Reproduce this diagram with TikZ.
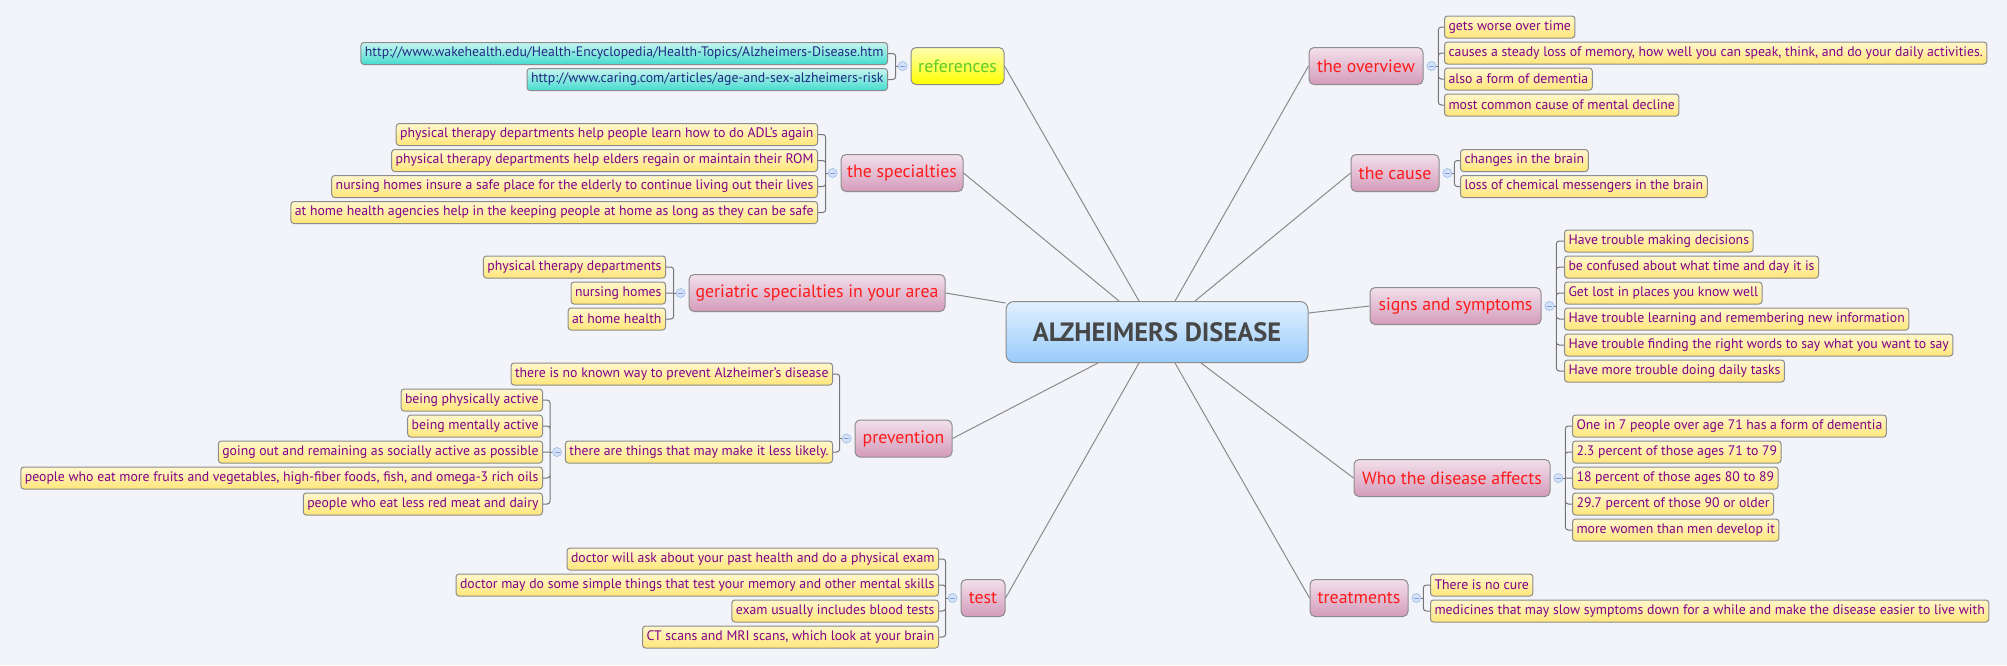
\documentclass[tikz,border=0pt]{standalone}
\usepackage{fontspec}
\setmainfont{PT Sans}
\usetikzlibrary{positioning}
\definecolor{canvas}{HTML}{F2F4F9}
\definecolor{rim}{HTML}{8C8C8C}
\definecolor{spokegray}{HTML}{8A8A8A}
\definecolor{hubtop}{HTML}{E2F1FF}
\definecolor{hubbot}{HTML}{98CBFA}
\definecolor{hubtext}{HTML}{474747}
\definecolor{topictop}{HTML}{F2E0EA}
\definecolor{topicbot}{HTML}{D49BBB}
\definecolor{topictext}{HTML}{FF1A1A}
\definecolor{leaftop}{HTML}{FFF7CC}
\definecolor{leafbot}{HTML}{FFE67A}
\definecolor{leaftext}{HTML}{82008A}
\definecolor{urltop}{HTML}{C8F5F0}
\definecolor{urlbot}{HTML}{45DBCF}
\definecolor{urltext}{HTML}{1F2A80}
\definecolor{reftop}{HTML}{FFFFB0}
\definecolor{refbot}{HTML}{FFFF00}
\definecolor{reftext}{HTML}{5DCB2A}
\definecolor{knobfill}{HTML}{D5E3F7}
\definecolor{knobrim}{HTML}{A8C2E8}

\begin{document}
\begin{tikzpicture}[x=1pt, y=-1pt,
    hub/.style={draw=rim, line width=1pt, rounded corners=8pt,
        top color=hubtop, bottom color=hubbot, text=hubtext,
        minimum width=302pt, minimum height=61pt,
        font=\fontsize{26.5}{30}\selectfont\bfseries},
    topic/.style={draw=rim, line width=1pt, rounded corners=5pt,
        top color=topictop, bottom color=topicbot, text=topictext,
        minimum height=37pt, inner xsep=4pt,
        font=\fontsize{17.8}{21}\selectfont},
    leaf/.style={draw=rim, line width=1pt, rounded corners=3pt,
        top color=leaftop, bottom color=leafbot, text=leaftext,
        minimum height=22pt, inner xsep=4pt, inner ysep=0pt,
        font=\fontsize{13.75}{16}\selectfont},
    url/.style={leaf, top color=urltop, bottom color=urlbot, text=urltext},
    knob/.style={circle, draw=knobrim, fill=knobfill, line width=0.8pt,
        minimum size=9pt, inner sep=0pt, text=knobrim!80!blue,
        node contents={\rule[-0.4pt]{5pt}{0.8pt}}},
    spoke/.style={draw=spokegray, line width=1pt},
    fork/.style={draw=spokegray!85!black, line width=1pt, rounded corners=3pt}]

  \fill[canvas] (0,0) rectangle (2007,665);
  \useasboundingbox (0,0) rectangle (2007,665);

  % --- the hub ---
  \node[hub] (hub) at (1157,332) {ALZHEIMERS DISEASE};

  % --- left main topics ---
  \node[topic, top color=reftop, bottom color=refbot, text=reftext,
        minimum width=93pt] (refs) at (957.5,66) {references};
  \node[topic, minimum width=122pt] (special) at (902,173) {the specialties};
  \node[topic, minimum width=256pt] (geri) at (817,293) {geriatric specialties in your area};
  \node[topic, minimum width=97pt] (prev) at (903.5,438.5) {prevention};
  \node[topic, minimum width=44pt] (test) at (983,598) {test};

  % --- right main topics ---
  \node[topic, minimum width=114pt] (overview) at (1366,66) {the overview};
  \node[topic, minimum width=88pt] (cause) at (1395,173) {the cause};
  \node[topic, minimum width=171pt] (signs) at (1455.5,306) {signs and symptoms};
  \node[topic, minimum width=196pt] (affects) at (1452,478) {Who the disease affects};
  \node[topic, minimum width=98pt] (treat) at (1359,598) {treatments};

  % spokes from the hub
  \draw[spoke] (refs.east) -- ([xshift=-18pt]hub.north);
  \draw[spoke] (special.east) -- ([xshift=-38pt]hub.north);
  \draw[spoke] (geri.east) -- ([yshift=29pt]hub.west);
  \draw[spoke] (prev.east) -- ([xshift=-59pt]hub.south);
  \draw[spoke] (test.east) -- ([xshift=-18pt]hub.south);
  \draw[spoke] (overview.west) -- ([xshift=18pt]hub.north);
  \draw[spoke] (cause.west) -- ([xshift=38pt]hub.north);
  \draw[spoke] (signs.west) -- ([yshift=19pt]hub.east);
  \draw[spoke] (affects.west) -- ([xshift=44pt]hub.south);
  \draw[spoke] (treat.west) -- ([xshift=18pt]hub.south);

  % --- references ---
  \node[url, anchor=east] (refs-1) at (888,53.5)
    {http://www.wakehealth.edu/Health-Encyclopedia/Health-Topics/Alzheimers-Disease.htm};
  \node[url, anchor=east] (refs-2) at (888,79.5)
    {http://www.caring.com/articles/age-and-sex-alzheimers-risk};
  \node (refs-k) [knob, left=3pt of refs];
  \coordinate[left=2pt of refs-k] (refs-j);
  \draw[fork] (refs-1.east) -| (refs-j) (refs-2.east) -| (refs-j);
  \draw[fork] (refs-j) -- (refs-k);

  % --- the specialties ---
  \node[leaf, anchor=east] (special-1) at (818,134.5)
    {physical therapy departments help people learn how to do ADL's again};
  \node[leaf, anchor=east] (special-2) at (818,160.5)
    {physical therapy departments help elders regain or maintain their ROM};
  \node[leaf, anchor=east] (special-3) at (818,186.5)
    {nursing homes insure a safe place for the elderly to continue living out their lives};
  \node[leaf, anchor=east] (special-4) at (818,212.5)
    {at home health agencies help in the keeping people at home as long as they can be safe};
  \node (special-k) [knob, left=3pt of special];
  \coordinate[left=2pt of special-k] (special-j);
  \draw[fork] (special-1.east) -| (special-j) (special-2.east) -| (special-j)
    (special-3.east) -| (special-j) (special-4.east) -| (special-j);
  \draw[fork] (special-j) -- (special-k);

  % --- geriatric specialties ---
  \node[leaf, anchor=east] (geri-1) at (666,267) {physical therapy departments};
  \node[leaf, anchor=east] (geri-2) at (666,293) {nursing homes};
  \node[leaf, anchor=east] (geri-3) at (666,319) {at home health};
  \node (geri-k) [knob, left=3pt of geri];
  \coordinate[left=2pt of geri-k] (geri-j);
  \draw[fork] (geri-1.east) -| (geri-j) (geri-2.east) -- (geri-j) (geri-3.east) -| (geri-j);
  \draw[fork] (geri-j) -- (geri-k);

  % --- prevention, with its own sub-branch ---
  \node[leaf, anchor=east] (prev-1) at (833,374)
    {there is no known way to prevent Alzheimer's disease};
  \node[leaf, anchor=east] (prev-2) at (833,452)
    {there are things that may make it less likely.};
  \node (prev-k) [knob, left=3pt of prev];
  \coordinate[left=2pt of prev-k] (prev-j);
  \draw[fork] (prev-1.east) -| (prev-j) (prev-2.east) -| (prev-j);
  \draw[fork] (prev-j) -- (prev-k);

  \node[leaf, anchor=east] (things-1) at (543,400) {being physically active};
  \node[leaf, anchor=east] (things-2) at (543,426) {being mentally active};
  \node[leaf, anchor=east] (things-3) at (543,452)
    {going out and remaining as socially active as possible};
  \node[leaf, anchor=east] (things-4) at (543,478)
    {people who eat more fruits and vegetables, high-fiber foods, fish, and omega-3 rich oils};
  \node[leaf, anchor=east] (things-5) at (543,504) {people who eat less red meat and dairy};
  \node (things-k) [knob, left=3pt of prev-2];
  \coordinate[left=2pt of things-k] (things-j);
  \draw[fork] (things-1.east) -| (things-j) (things-2.east) -| (things-j)
    (things-3.east) -- (things-j) (things-4.east) -| (things-j) (things-5.east) -| (things-j);
  \draw[fork] (things-j) -- (things-k);

  % --- test ---
  \node[leaf, anchor=east] (test-1) at (939,559)
    {doctor will ask about your past health and do a physical exam};
  \node[leaf, anchor=east] (test-2) at (939,585)
    {doctor may do some simple things that test your memory and other mental skills};
  \node[leaf, anchor=east] (test-3) at (939,611) {exam usually includes blood tests};
  \node[leaf, anchor=east] (test-4) at (939,637)
    {CT scans and MRI scans, which look at your brain};
  \node (test-k) [knob, left=3pt of test];
  \coordinate[left=2pt of test-k] (test-j);
  \draw[fork] (test-1.east) -| (test-j) (test-2.east) -| (test-j)
    (test-3.east) -| (test-j) (test-4.east) -| (test-j);
  \draw[fork] (test-j) -- (test-k);

  % --- the overview ---
  \node[leaf, anchor=west] (overview-1) at (1444,27) {gets worse over time};
  \node[leaf, anchor=west] (overview-2) at (1444,53)
    {causes a steady loss of memory, how well you can speak, think, and do your daily activities.};
  \node[leaf, anchor=west] (overview-3) at (1444,79) {also a form of dementia};
  \node[leaf, anchor=west] (overview-4) at (1444,105) {most common cause of mental decline};
  \node (overview-k) [knob, right=3pt of overview];
  \coordinate[right=2pt of overview-k] (overview-j);
  \draw[fork] (overview-1.west) -| (overview-j) (overview-2.west) -| (overview-j)
    (overview-3.west) -| (overview-j) (overview-4.west) -| (overview-j);
  \draw[fork] (overview-j) -- (overview-k);

  % --- the cause ---
  \node[leaf, anchor=west] (cause-1) at (1460,160.5) {changes in the brain};
  \node[leaf, anchor=west] (cause-2) at (1460,186.5) {loss of chemical messengers in the brain};
  \node (cause-k) [knob, right=3pt of cause];
  \coordinate[right=2pt of cause-k] (cause-j);
  \draw[fork] (cause-1.west) -| (cause-j) (cause-2.west) -| (cause-j);
  \draw[fork] (cause-j) -- (cause-k);

  % --- signs and symptoms ---
  \node[leaf, anchor=west] (signs-1) at (1564,241) {Have trouble making decisions};
  \node[leaf, anchor=west] (signs-2) at (1564,267) {be confused about what time and day it is};
  \node[leaf, anchor=west] (signs-3) at (1564,293) {Get lost in places you know well};
  \node[leaf, anchor=west] (signs-4) at (1564,319)
    {Have trouble learning and remembering new information};
  \node[leaf, anchor=west] (signs-5) at (1564,345)
    {Have trouble finding the right words to say what you want to say};
  \node[leaf, anchor=west] (signs-6) at (1564,371) {Have more trouble doing daily tasks};
  \node (signs-k) [knob, right=3pt of signs];
  \coordinate[right=2pt of signs-k] (signs-j);
  \draw[fork] (signs-1.west) -| (signs-j) (signs-2.west) -| (signs-j) (signs-3.west) -| (signs-j)
    (signs-4.west) -| (signs-j) (signs-5.west) -| (signs-j) (signs-6.west) -| (signs-j);
  \draw[fork] (signs-j) -- (signs-k);

  % --- who the disease affects ---
  \node[leaf, anchor=west] (affects-1) at (1572,426)
    {One in 7 people over age 71 has a form of dementia};
  \node[leaf, anchor=west] (affects-2) at (1572,452) {2.3 percent of those ages 71 to 79};
  \node[leaf, anchor=west] (affects-3) at (1572,478) {18 percent of those ages 80 to 89};
  \node[leaf, anchor=west] (affects-4) at (1572,504) {29.7 percent of those 90 or older};
  \node[leaf, anchor=west] (affects-5) at (1572,530) {more women than men develop it};
  \node (affects-k) [knob, right=3pt of affects];
  \coordinate[right=2pt of affects-k] (affects-j);
  \draw[fork] (affects-1.west) -| (affects-j) (affects-2.west) -| (affects-j)
    (affects-3.west) -- (affects-j) (affects-4.west) -| (affects-j) (affects-5.west) -| (affects-j);
  \draw[fork] (affects-j) -- (affects-k);

  % --- treatments ---
  \node[leaf, anchor=west] (treat-1) at (1430,585) {There is no cure};
  \node[leaf, anchor=west] (treat-2) at (1430,611)
    {medicines that may slow symptoms down for a while and make the disease easier to live with};
  \node (treat-k) [knob, right=3pt of treat];
  \coordinate[right=2pt of treat-k] (treat-j);
  \draw[fork] (treat-1.west) -| (treat-j) (treat-2.west) -| (treat-j);
  \draw[fork] (treat-j) -- (treat-k);
\end{tikzpicture}
\end{document}
